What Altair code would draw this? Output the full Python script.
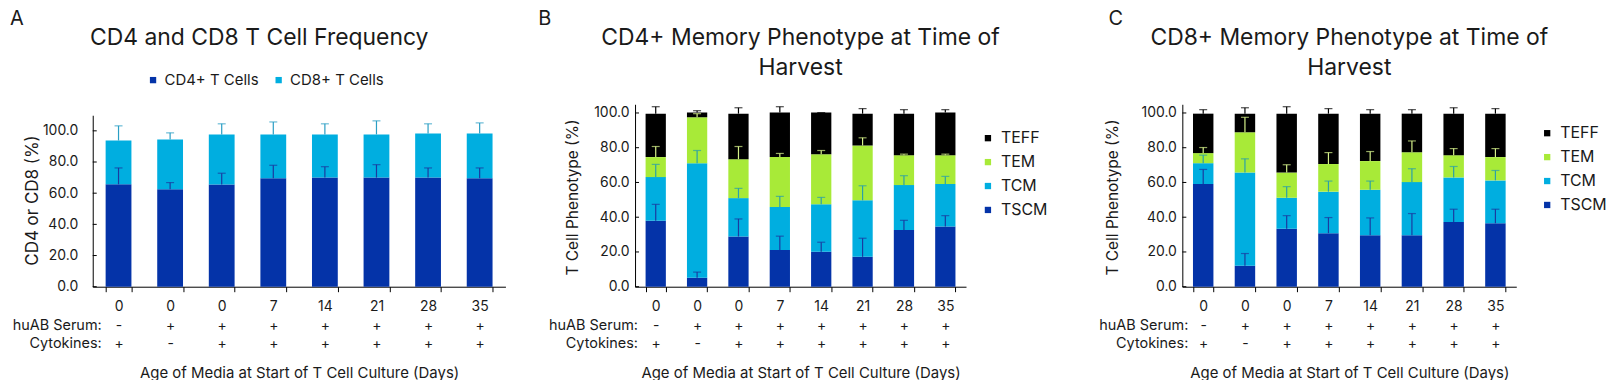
import altair as alt
import pandas as pd

# ---------------- data ----------------
days = ["0", "0", "0", "7", "14", "21", "28", "35"]
serum = ["-", "+", "+", "+", "+", "+", "+", "+"]
cytokines = ["+", "-", "+", "+", "+", "+", "+", "+"]

# Panel A (stacked bottom -> top)
a_series = ["CD4+ T Cells", "CD8+ T Cells"]
cd4 = [65.7, 62.6, 65.5, 69.6, 70.0, 70.0, 70.0, 69.6]
cd4_sd = [10.5, 4.2, 7.3, 8.3, 7.0, 8.3, 6.2, 6.6]
cd8 = [28.1, 31.9, 32.2, 28.1, 27.7, 27.7, 28.3, 28.7]
cd8_sd = [9.4, 4.2, 6.8, 8.0, 6.8, 8.7, 6.2, 6.8]

# Panels B and C (stacked bottom -> top)
phen_series = ["TSCM", "TCM", "TEM", "TEFF"]
b_tscm = [37.9, 5.2, 28.9, 21.2, 20.1, 17.2, 32.7, 34.6]
b_tscm_sd = [9.5, 3.2, 10.1, 7.9, 5.5, 10.7, 5.5, 6.3]
b_tcm = [25.2, 65.9, 22.1, 24.7, 27.3, 32.5, 25.8, 24.5]
b_tcm_sd = [7.3, 7.3, 5.6, 6.1, 4.0, 8.4, 5.4, 4.4]
b_tem = [11.5, 26.4, 22.4, 28.7, 28.9, 31.6, 17.2, 16.6]
b_tem_sd = [6.1, 2.1, 7.3, 2.1, 2.1, 4.4, 0.6, 0.6]
b_teff = [25.0, 2.7, 26.2, 25.6, 23.9, 18.3, 23.9, 24.5]
b_teff_sd = [4.0, 1.1, 3.4, 3.4, 0.0, 2.9, 2.3, 1.7]

c_tscm = [59.1, 12.0, 33.3, 30.8, 29.6, 29.6, 37.3, 36.5]
c_tscm_sd = [8.4, 7.1, 7.6, 9.0, 10.0, 12.5, 7.3, 8.1]
c_tcm = [12.0, 53.8, 17.9, 23.9, 26.2, 30.6, 25.6, 24.7]
c_tcm_sd = [4.6, 7.8, 6.4, 6.1, 5.0, 7.7, 6.3, 5.7]
c_tem = [5.8, 23.1, 14.6, 15.9, 16.5, 17.2, 12.8, 13.4]
c_tem_sd = [3.2, 8.6, 4.4, 6.6, 5.5, 6.5, 3.8, 4.9]
c_teff = [22.7, 10.7, 33.8, 29.0, 27.3, 22.2, 23.9, 25.0]
c_teff_sd = [2.3, 3.4, 4.0, 2.9, 2.3, 2.3, 3.4, 2.9]

y_ticks = [0, 20, 40, 60, 80, 100]

# ---------------- helpers ----------------
keys = [f"{i}|{d}|{s}|{c}" for i, (d, s, c) in enumerate(zip(days, serum, cytokines))]

TXT = "#1a1a1a"
FONT = "Inter"
H = 183
XTITLE = "Age of Media at Start of T Cell Culture (Days)"


def long_df(names, values, sds):
    rows = []
    for i, k in enumerate(keys):
        base = 0.0
        for name, vals, sd in zip(names, values, sds):
            top = base + vals[i]
            rows.append({"cond": k, "series": name, "bottom": base, "top": top,
                         "errtop": top + sd[i]})
            base = top
    return pd.DataFrame(rows)


def panel(df, legend_domain, bar_colors, err_colors, width, ydomain, yrange,
          pad_inner, label_pad, ytitle, ytitle_x, ytitle_y, ytitle_size, legend,
          title_text, title_x, letter, letter_x, header_x):
    x_axis = alt.Axis(
        title=XTITLE,
        labelExpr="slice(split(datum.value, '|'), 1)",
        tickBand="extent", tickSize=5, labelAngle=0, labelLineHeight=18.5,
        labelPadding=8, labelFontSize=14, labelOverlap=False, grid=False,
        titleY=91, titleBaseline="alphabetic", titleFontSize=15,
        titleFontWeight="normal", domainColor="black", tickColor="black",
        labelColor=TXT, titleColor=TXT)
    if yrange is not None:
        yscale = alt.Scale(domain=ydomain, range=yrange, nice=False)
    else:
        yscale = alt.Scale(domain=ydomain, nice=False)
    y_axis = alt.Axis(values=y_ticks, tickCount=12, format=".1f", ticks=False,
                      grid=False, labelOverlap=False,
                      labelPadding=label_pad, labelFontSize=14, labelColor=TXT,
                      title=ytitle, titleX=ytitle_x, titleY=ytitle_y,
                      titleBaseline="middle", titleFontSize=ytitle_size,
                      titleFontWeight="normal", titleColor=TXT,
                      domainColor="black")
    xs = alt.X("cond:N", sort=keys, title=XTITLE,
               scale=alt.Scale(paddingInner=pad_inner, paddingOuter=pad_inner / 2),
               axis=x_axis)
    xn = alt.X("cond:N", sort=keys, title=XTITLE)

    bars = alt.Chart(df).mark_bar().encode(
        x=xs,
        y=alt.Y("top:Q", scale=yscale, axis=y_axis, title=ytitle),
        y2="bottom:Q",
        color=alt.Color("series:N",
                        scale=alt.Scale(domain=legend_domain, range=bar_colors),
                        legend=legend),
    )
    err = alt.Chart(df).mark_rule(strokeWidth=1.2).encode(
        x=xn,
        y=alt.Y("top:Q", title=ytitle),
        y2="errtop:Q",
        stroke=alt.Stroke("series:N",
                          scale=alt.Scale(domain=legend_domain, range=err_colors),
                          legend=None),
    )
    caps = alt.Chart(df).mark_tick(size=8, thickness=1.2).encode(
        x=xn,
        y=alt.Y("errtop:Q", title=ytitle),
        fill=alt.Fill("series:N",
                      scale=alt.Scale(domain=legend_domain, range=err_colors),
                      legend=None),
    )
    yt = alt.Chart(pd.DataFrame({"v": y_ticks})).mark_rule(color="black").encode(
        y=alt.Y("v:Q", title=ytitle), x=alt.value(0), x2=alt.value(4))

    letter_l = alt.Chart(pd.DataFrame({"t": [letter]})).mark_text(
        align="left", baseline="alphabetic", fontSize=20, color=TXT
    ).encode(x=alt.value(letter_x), y=alt.value(-80), text="t:N")
    title_l = alt.Chart(pd.DataFrame({"t": [title_text]})).mark_text(
        align="center", baseline="alphabetic", fontSize=23, color=TXT,
        lineBreak="\n", lineHeight=29.5
    ).encode(x=alt.value(title_x), y=alt.value(-59), text="t:N")
    h1 = alt.Chart(pd.DataFrame({"t": ["huAB Serum:"]})).mark_text(
        align="right", baseline="alphabetic", fontSize=14.5, color=TXT
    ).encode(x=alt.value(header_x), y=alt.value(H + 43), text="t:N")
    h2 = alt.Chart(pd.DataFrame({"t": ["Cytokines:"]})).mark_text(
        align="right", baseline="alphabetic", fontSize=14.5, color=TXT
    ).encode(x=alt.value(header_x), y=alt.value(H + 61.5), text="t:N")

    return alt.layer(bars, err, caps, yt, letter_l, title_l, h1, h2).properties(
        width=width, height=H)


BAR_A = ["#0433a8", "#00aee0"]
ERR_A = ["#1a3aa0", "#2a9ec4"]
BAR_P = ["#000000", "#a8ea38", "#00aee0", "#0433a8"]
ERR_P = ["#000000", "#d6f28a", "#2aa0a8", "#1a3aa0"]

df_a = long_df(a_series, [cd4, cd8], [cd4_sd, cd8_sd])
df_b = long_df(phen_series, [b_tscm, b_tcm, b_tem, b_teff],
               [b_tscm_sd, b_tcm_sd, b_tem_sd, b_teff_sd])
df_c = long_df(phen_series, [c_tscm, c_tcm, c_tem, c_teff],
               [c_tscm_sd, c_tcm_sd, c_tem_sd, c_teff_sd])

leg_a = alt.Legend(orient="none", legendX=53, legendY=-32, direction="horizontal",
                   title=None, symbolType="square", symbolSize=40,
                   symbolStrokeWidth=0, labelFontSize=15, labelColor=TXT,
                   columnPadding=12, padding=0, labelOffset=4)
leg_b = alt.Legend(orient="none", legendX=346, legendY=26, direction="vertical",
                   title=None, symbolType="square", symbolSize=40,
                   symbolStrokeWidth=0, labelFontSize=16, labelColor=TXT,
                   rowPadding=8, padding=0, labelOffset=5)
leg_c = alt.Legend(orient="none", legendX=358, legendY=21, direction="vertical",
                   title=None, symbolType="square", symbolSize=40,
                   symbolStrokeWidth=0, labelFontSize=16, labelColor=TXT,
                   rowPadding=8, padding=0, labelOffset=5)

pa = panel(df_a, a_series, BAR_A, ERR_A, 414, [0, 110], [H, 11], 0.5, 15,
           "CD4 or CD8 (%)", -60, 96, 17, leg_a, "CD4 and CD8 T Cell Frequency",
           167, "A", -83, 9)
pb = panel(df_b, ["TEFF", "TEM", "TCM", "TSCM"], BAR_P, ERR_P, 332, [0, 105], None,
           0.51, 6, "T Cell Phenotype (%)", -62.5, 93, 15.5, leg_b,
           "CD4+ Memory Phenotype at Time of\nHarvest", 166, "B", -97, 3)
pc = panel(df_c, ["TEFF", "TEM", "TCM", "TSCM"], BAR_P, ERR_P, 335, [0, 105], None,
           0.51, 6, "T Cell Phenotype (%)", -70, 93, 15.5, leg_c,
           "CD8+ Memory Phenotype at Time of\nHarvest", 167.5, "C", -74, 6)

RES = dict(color="independent", stroke="independent", fill="independent",
           x="independent", y="independent")

inner = alt.hconcat(pb, pc, spacing=217, bounds="flush").resolve_scale(**RES).resolve_legend(
    color="independent")
chart = alt.hconcat(pa, inner, spacing=130, bounds="flush").resolve_scale(**RES).resolve_legend(
    color="independent").properties(
    padding={"left": 2, "top": 0, "right": 0, "bottom": 0}
).configure(font=FONT).configure_view(stroke=None)

chart.save("out.html", embed_options={"renderer": "svg", "actions": False})
